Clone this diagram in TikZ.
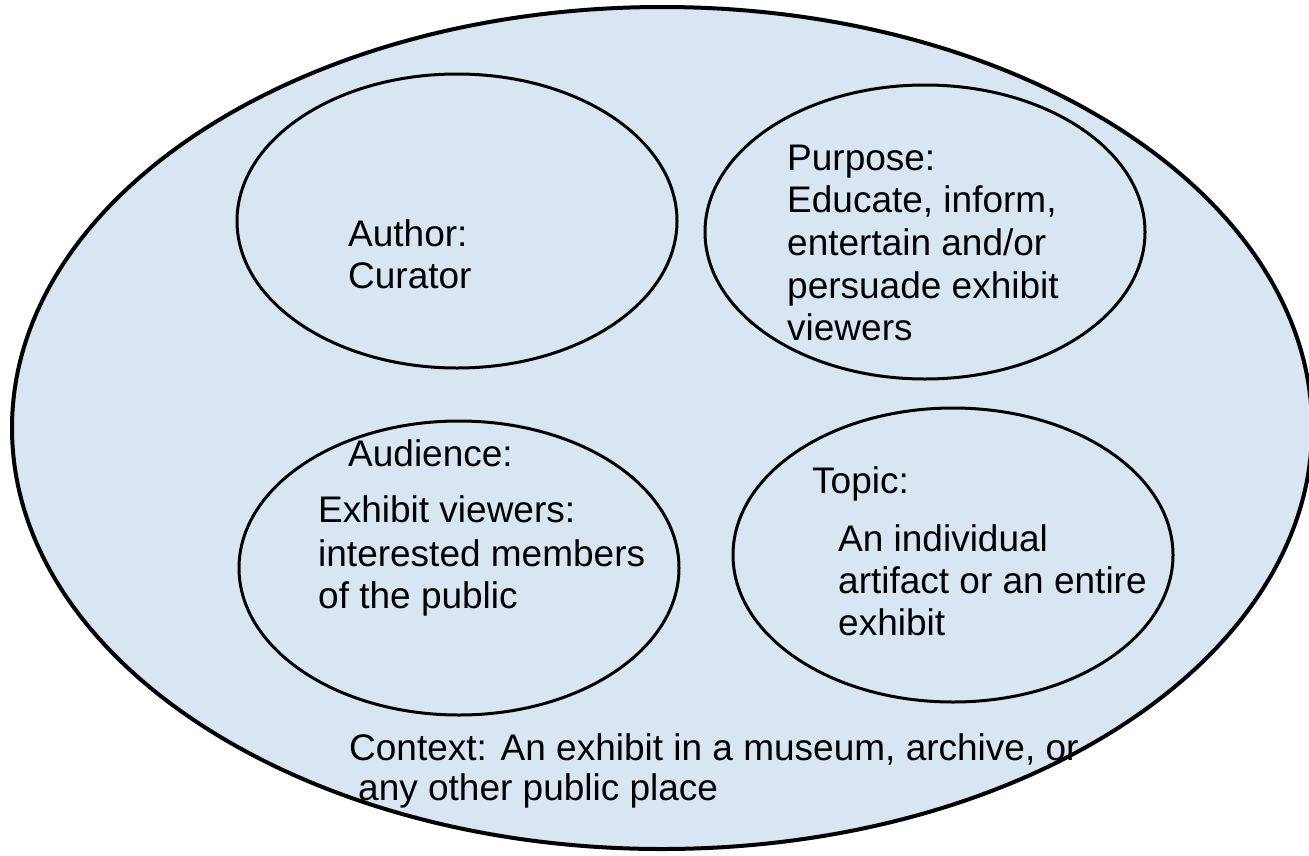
\documentclass[tikz,border=0pt]{standalone}
\usepackage{fontspec}
\setmainfont{Liberation Sans}
\usetikzlibrary{shapes.geometric}
\definecolor{bgblue}{RGB}{216,230,244}
\begin{document}
\begin{tikzpicture}[x=1pt,y=-1pt,
  outerell/.style={ellipse, draw, line width=4pt, fill=bgblue, minimum width=1300pt, minimum height=842pt, inner sep=0pt},
  innerell/.style={ellipse, draw, line width=3pt, minimum width=440pt, minimum height=294pt, inner sep=0pt},
  txt/.style={anchor=base west, inner sep=0pt, font=\fontsize{37}{42.5}\selectfont}]
\useasboundingbox (0,0) rectangle (1309,855);
\fill[white] (0,0) rectangle (1309,855);
\node[outerell] (context) at (662,428) {};
\node[innerell] (author) at (457,221) {};
\node[innerell] (purpose) at (925,232) {};
\node[innerell] (audience) at (459,568) {};
\node[innerell] (topic) at (953,555) {};
% Author
\node[txt] (au1) at (348,246) {Author:};
\node[txt] (au2) at (348,288) {Curator};
% Purpose
\node[txt] (pu1) at (787,170) {Purpose:};
\node[txt] (pu2) at (787,212) {Educate, inform,};
\node[txt] (pu3) at (787,255) {entertain and/or};
\node[txt] (pu4) at (787,298) {persuade exhibit};
\node[txt] (pu5) at (787,340) {viewers};
% Audience
\node[txt] (ad1) at (348,466) {Audience:};
\node[txt] (ad2) at (318,522) {Exhibit viewers:};
\node[txt] (ad3) at (318,566) {interested members};
\node[txt] (ad4) at (318,608) {of the public};
% Topic
\node[txt] (tp1) at (812,493) {Topic:};
\node[txt] (tp2) at (838,551) {An individual};
\node[txt] (tp3) at (838,593) {artifact or an entire};
\node[txt] (tp4) at (838,635) {exhibit};
% Context
\node[txt] (cx1) at (349,760) {Context: An exhibit in a museum, archive, or};
\node[txt] (cx2) at (358,800) {any other public place};
\end{tikzpicture}
\end{document}
